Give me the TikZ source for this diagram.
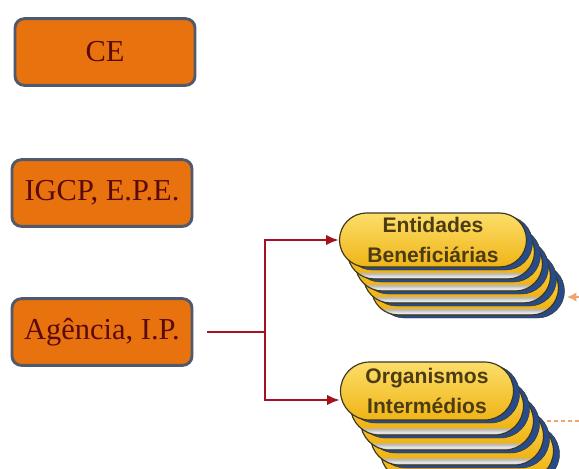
\documentclass[tikz,border=0pt]{standalone}
\usepackage{fontspec}
\setmainfont{Liberation Serif}
\newfontfamily\pillfont{Liberation Sans}
\usetikzlibrary{arrows.meta,calc,shapes.misc}
\definecolor{boxorange}{RGB}{232,114,14}
\definecolor{boxedge}{RGB}{80,90,108}
\definecolor{boxtext}{RGB}{90,10,10}
\definecolor{linkred}{RGB}{165,18,34}
\definecolor{pilltop}{RGB}{252,222,105}
\definecolor{pillbot}{RGB}{240,180,22}
\definecolor{pilledge}{RGB}{60,55,30}
\definecolor{pillblue}{RGB}{40,75,140}
\definecolor{pilltext}{RGB}{75,60,20}
\definecolor{peach}{RGB}{240,165,110}
\pgfdeclareverticalshading{layershade}{100bp}{color(0bp)=(gray!80);
  color(25bp)=(gray!80); color(27bp)=(white!85!gray); color(30bp)=(gray!55);
  color(32bp)=(pillbot); color(75bp)=(pilltop); color(100bp)=(pilltop)}

\begin{document}
\begin{tikzpicture}[x=0.03cm,y=-0.03cm,
    orgbox/.style={draw=boxedge,line width=2.5pt,fill=boxorange,rounded corners=8pt,
      minimum width=5.4cm,minimum height=2.0cm,text=boxtext,
      font=\fontsize{26}{30}\selectfont},
    pill/.style={rounded rectangle,draw=pilledge,line width=1pt,
      top color=pilltop,bottom color=pillbot,text=pilltext,align=center,
      inner sep=0pt,font=\pillfont\bfseries\fontsize{18}{25}\selectfont},
    pillback/.style={pill,shading=layershade},
    pillshade/.style={rounded rectangle,fill=pillblue,draw=pilledge,inner sep=0pt},
    entsize/.style={minimum width=5.61cm,minimum height=1.62cm},
    orgsize/.style={minimum width=5.19cm,minimum height=1.74cm},
    link/.style={linkred,line width=2pt,-{Latex[length=11pt,width=9pt]}}]
  \useasboundingbox (0,0) rectangle (579,468);

  % left column
  \node[orgbox] (ce) at (105,52) {CE};
  \node[orgbox] (igcp) at (102,193) {IGCP, E.P.E.};
  \node[orgbox] (age) at (102,332) {Agência, I.P.};

  % stacked pills
  \coordinate (ent-c) at (433,240);
  \coordinate (org-c) at (427,391);
  \foreach \k in {4,3,2,1} {
    \node[pillshade,entsize] (ent-s\k) at ($(ent-c)+(8*\k+6,12*\k+3)$) {};
    \node[pillback,entsize] (ent-l\k) at ($(ent-c)+(8*\k,12*\k)$) {};
    \node[pillshade,orgsize] (org-s\k) at ($(org-c)+(10*\k+6,15*\k+3)$) {};
    \node[pillback,orgsize] (org-l\k) at ($(org-c)+(10*\k,15*\k)$) {};
  }
  \node[pillshade,entsize] (ent-s0) at ($(ent-c)+(6,3)$) {};
  \node[pill,entsize] (ent) at (ent-c) {Entidades\\Beneficiárias};
  \node[pillshade,orgsize] (org-s0) at ($(org-c)+(6,3)$) {};
  \node[pill,orgsize] (org) at (org-c) {Organismos\\Intermédios};

  % connectors
  \coordinate (split) at (265,332);
  \draw[link,shorten <=0.42cm] (age.east) -- (split) |- (ent.west);
  \draw[link] (split) |- ($(org.west)+(0,9)$);

  % cut-off bits at the right edge
  \coordinate (rin) at (579,297);
  \draw[peach,line width=1.5pt,-{Latex[length=8pt,width=8pt]}] (rin) -- ++(-12,0);
  \coordinate (dl) at (547,421);
  \coordinate (dr) at (579,421);
  \draw[peach,line width=1pt,dashed] (dl) -- (dr);
\end{tikzpicture}
\end{document}
